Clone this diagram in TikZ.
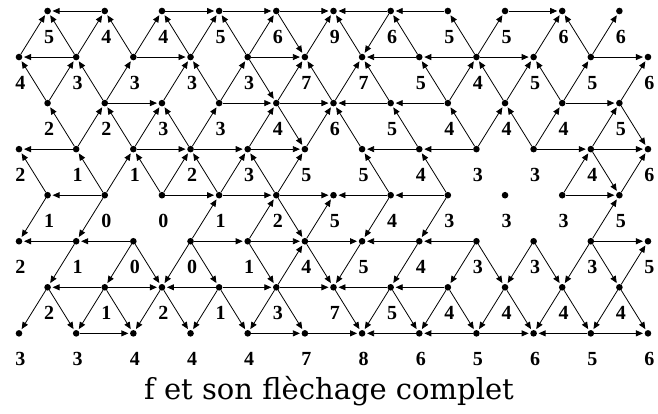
\documentclass[tikz,border=0pt]{standalone}
\usepackage{fontspec}
\setmainfont{Liberation Serif}
\newfontfamily\titlefont{DejaVu Serif}
\usetikzlibrary{arrows.meta}
\begin{document}
\begin{tikzpicture}[x=1pt,y=-1pt,
  dot/.style={circle,fill=black,inner sep=0pt,minimum size=6.6pt},
  val/.style={font=\bfseries\fontsize{20}{20}\selectfont,inner sep=0pt},
  arr/.style={-{Triangle[length=7pt,width=6pt]},line width=0.8pt,shorten >=1.5pt},
  ttl/.style={font=\titlefont\fontsize{29}{29}\selectfont,inner sep=0pt}]
\useasboundingbox (0,0) rectangle (658,414);
\foreach \r/\vals in {0/{5,4,4,5,6,9,6,5,5,6,6},
                      1/{4,3,3,3,3,7,7,5,4,5,5,6},
                      2/{2,2,3,3,4,6,5,4,4,4,5},
                      3/{2,1,1,2,3,5,5,4,3,3,4,6},
                      4/{1,0,0,1,2,5,4,3,3,3,5},
                      5/{2,1,0,0,1,4,5,4,3,3,3,5},
                      6/{2,1,2,1,3,7,5,4,4,4,4},
                      7/{3,3,4,4,4,7,8,6,5,6,5,6}}{
  \foreach \v [count=\k from 0] in \vals {
    \pgfmathtruncatemacro\j{2*\k+1-mod(\r,2)}
    \pgfmathsetmacro\xx{19+28.59*\j}
    \pgfmathsetmacro\yy{11+46.05*\r}
    \node[dot] (n\r x\j) at (\xx,\yy) {};
    \node[val] (v\r x\j) at (\xx+1.5,\yy+26) {\v};
  }
}
% horizontal connectors
\foreach \a/\b in {0x3/0x1,0x5/0x7,0x7/0x9,0x9/0x11,0x13/0x11,0x15/0x13,0x17/0x19,
  1x2/1x0,1x4/1x6,1x8/1x10,1x14/1x12,1x16/1x14,1x16/1x18,1x20/1x22,
  2x3/2x5,2x7/2x9,2x9/2x11,2x13/2x11,2x15/2x13,2x19/2x21,
  3x2/3x0,3x4/3x6,3x6/3x8,3x8/3x10,3x14/3x12,3x16/3x14,3x18/3x20,3x20/3x22,
  4x3/4x1,4x5/4x7,4x7/4x9,4x9/4x11,4x13/4x11,4x15/4x13,4x19/4x21,
  5x2/5x0,5x4/5x2,5x6/5x8,5x8/5x10,5x10/5x12,5x14/5x12,5x16/5x14,5x20/5x22,
  6x3/6x1,6x3/6x5,6x7/6x5,6x7/6x9,6x9/6x11,6x13/6x11,6x15/6x13,
  7x2/7x4,7x8/7x10,7x10/7x12,7x14/7x12,7x16/7x14,7x16/7x18,7x20/7x18,7x20/7x22}
  {\draw[arr] (n\a) -- (n\b);}
% diagonal connectors
\foreach \a/\b in {1x0/0x1,1x2/0x1,1x2/0x3,1x4/0x3,1x4/0x5,1x6/0x5,1x6/0x7,1x8/0x7,1x8/0x9,
  0x9/1x10,1x10/0x11,1x12/0x11,0x13/1x12,1x14/0x13,1x16/0x15,1x16/0x17,1x18/0x19,1x20/0x19,1x20/0x21,
  2x1/1x0,2x1/1x2,2x3/1x2,2x3/1x4,2x5/1x6,2x7/1x6,2x7/1x8,1x8/2x9,2x9/1x10,2x11/1x10,2x11/1x12,2x13/1x12,
  2x15/1x14,2x15/1x16,2x17/1x16,2x17/1x18,2x19/1x18,2x19/1x20,2x21/1x22,
  3x2/2x1,3x2/2x3,3x4/2x3,3x4/2x5,3x6/2x5,3x6/2x7,3x8/2x9,2x9/3x10,3x10/2x11,3x12/2x11,
  3x14/2x13,3x16/2x15,3x16/2x17,3x18/2x17,3x18/2x19,3x20/2x21,2x21/3x22,
  4x1/3x0,4x3/3x2,4x3/3x4,4x5/3x4,4x5/3x6,4x7/3x6,4x7/3x8,4x9/3x8,4x9/3x10,4x13/3x12,
  4x15/3x14,4x19/3x20,3x20/4x21,4x21/3x22,
  4x1/5x0,4x3/5x2,5x6/4x7,5x8/4x9,4x9/5x10,5x10/4x11,4x13/5x12,4x15/5x14,5x20/4x21,
  5x2/6x1,5x4/6x3,5x4/6x5,5x6/6x5,5x6/6x7,5x8/6x9,6x9/5x10,5x10/6x11,5x12/6x11,5x14/6x13,
  5x16/6x15,5x16/6x17,5x18/6x17,5x18/6x19,5x20/6x19,5x20/6x21,6x21/5x22,
  6x1/7x0,6x1/7x2,6x3/7x2,6x3/7x4,6x5/7x4,6x5/7x6,6x7/7x6,6x7/7x8,6x9/7x8,6x9/7x10,
  6x11/7x12,6x13/7x12,6x13/7x14,6x15/7x14,6x15/7x16,6x17/7x16,6x17/7x18,6x19/7x18,
  6x19/7x20,6x21/7x20,6x21/7x22}
  {\draw[arr] (n\a) -- (n\b);}
\node[ttl] (title) at (329,391) {f et son flèchage complet};
\end{tikzpicture}
\end{document}
